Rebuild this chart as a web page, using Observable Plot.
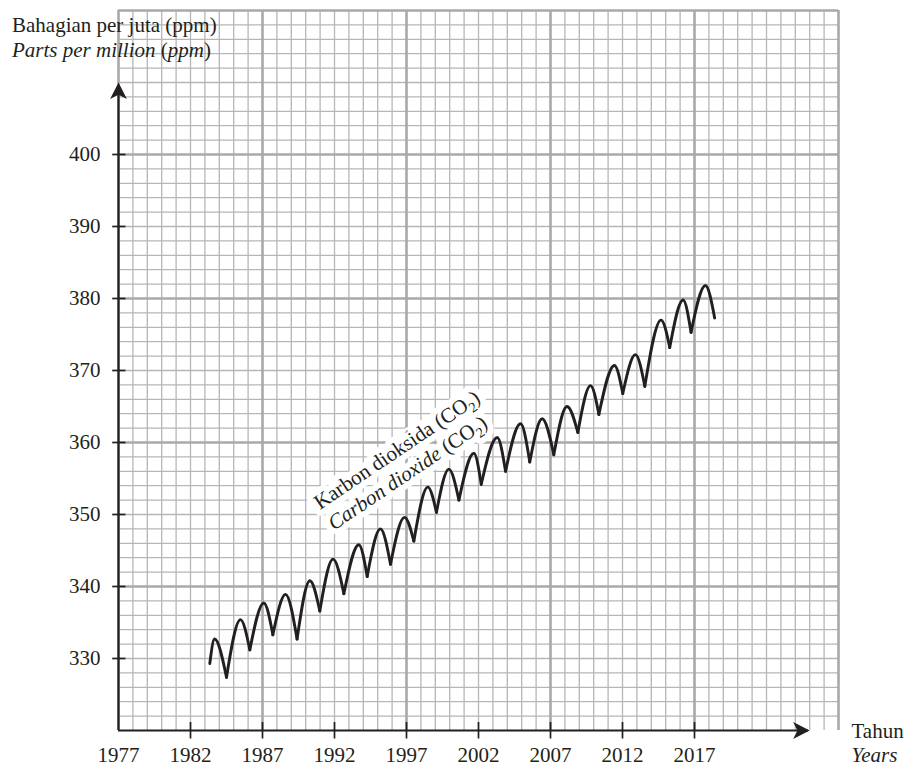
<!DOCTYPE html>
<html><head><meta charset="utf-8">
<script src="https://cdn.jsdelivr.net/npm/d3@7"></script>
<script src="https://cdn.jsdelivr.net/npm/@observablehq/plot@0.6"></script>
<style>body{margin:0;background:#fff}</style>
</head><body><div id="chart"></div>
<script>
// Seasonal CO2 curve: start, then alternating peak / trough, then end point
const curveYears = [
  1983.34, 1983.67, 1984.50, 1985.47, 1986.12, 1987.09, 1987.72, 1988.60, 1989.40,
  1990.29, 1990.98, 1991.90, 1992.65, 1993.69, 1994.27, 1995.19, 1995.89, 1996.86,
  1997.51, 1998.48, 1999.08, 1999.94, 2000.64, 2001.68, 2002.19, 2003.30, 2003.88,
  2004.92, 2005.56, 2006.42, 2007.23, 2008.15, 2008.90, 2009.78, 2010.36, 2011.44,
  2012.02, 2012.90, 2013.55, 2014.68, 2015.28, 2016.21, 2016.76, 2017.76, 2018.40
];
const curvePpm = [
  329.3, 332.7, 327.4, 335.4, 331.2, 337.7, 333.3, 338.9, 332.7,
  340.8, 336.6, 343.8, 339.0, 345.8, 341.4, 348.0, 343.1, 349.6,
  346.3, 353.8, 350.3, 356.3, 352.0, 358.5, 354.2, 360.7, 356.0,
  362.6, 357.3, 363.3, 358.3, 365.0, 361.4, 367.9, 363.9, 370.7,
  366.8, 372.2, 367.8, 377.0, 373.2, 379.8, 375.3, 381.8, 377.3
];
const xTickYears = [1982, 1987, 1992, 1997, 2002, 2007, 2012, 2017];
const xLabelYears = [1977, 1982, 1987, 1992, 1997, 2002, 2007, 2012, 2017];
const yTickValues = [330, 340, 350, 360, 370, 380, 390, 400];
const xDomain = [1977, 2027];
const yDomain = [320, 420];
const xAxisEnd = 2025;     // arrow tip of the year axis
const yAxisEnd = 410;      // arrow tip of the ppm axis

const ink = "#231f20";
const font = "Liberation Serif, Times New Roman, serif";
const fs = 21;

// grid lines
const majorX = d3.range(xDomain[0], xDomain[1] + 1, 10);
const minorX = d3.range(xDomain[0] + 1, xDomain[1], 1).filter(v => (v - xDomain[0]) % 10 !== 0);
const majorY = d3.range(340, yDomain[1] + 1, 20);
const minorY = d3.range(yDomain[0] + 2, yDomain[1], 2).filter(v => v % 20 !== 0);

// each seasonal arc: trough -> peak -> trough
const arcRows = [];
for (let k = 0; 2 * k + 2 < curveYears.length; k++) {
  for (let j = 0; j < 3; j++) {
    const i = 2 * k + j;
    arcRows.push({arc: k, year: curveYears[i], ppm: curvePpm[i]});
  }
}

const arrowHead = {draw(ctx) {
  ctx.moveTo(0, 0); ctx.lineTo(8.4, 16.5); ctx.lineTo(0, 12.3); ctx.lineTo(-8.4, 16.5); ctx.closePath();
}};
const hTick = {draw(ctx) { ctx.moveTo(-6.3, 0); ctx.lineTo(7, 0); }};
const vTick = {draw(ctx) { ctx.moveTo(0, -8.5); ctx.lineTo(0, 8); }};

const plot = Plot.plot({
  width: 907, height: 766,
  marginLeft: 118, marginRight: 69, marginTop: 10, marginBottom: 36,
  x: {domain: xDomain, axis: null},
  y: {domain: yDomain, axis: null},
  style: {fontFamily: font, fontSize: fs + "px", color: ink, background: "#fff", overflow: "visible"},
  marks: [
    Plot.ruleX(minorX, {y1: yDomain[0], y2: yDomain[1], stroke: "#b6b6ba", strokeWidth: 1.3}),
    Plot.ruleY(minorY, {x1: xDomain[0], x2: xDomain[1], stroke: "#b6b6ba", strokeWidth: 1.3}),
    Plot.ruleX(majorX, {y1: yDomain[0], y2: yDomain[1], stroke: "#a8a8ad", strokeWidth: 2.6}),
    Plot.ruleY(majorY, {x1: xDomain[0], x2: xDomain[1], stroke: "#a8a8ad", strokeWidth: 2.6}),
    // axes
    Plot.ruleX([xDomain[0]], {y1: yDomain[0], y2: yAxisEnd - 1, stroke: ink, strokeWidth: 2.2}),
    Plot.ruleY([yDomain[0]], {x1: xDomain[0], x2: xAxisEnd - 0.1, stroke: ink, strokeWidth: 2.2}),
    Plot.dot([yAxisEnd], {x: () => xDomain[0], y: d => d, symbol: arrowHead, fill: ink, stroke: "none"}),
    Plot.dot([xAxisEnd], {x: d => d, y: () => yDomain[0], symbol: arrowHead, rotate: 90, fill: ink, stroke: "none"}),
    Plot.dot(yTickValues, {x: () => xDomain[0], y: d => d, symbol: hTick, fill: "none", stroke: ink, strokeWidth: 1.7}),
    Plot.dot(xTickYears, {x: d => d, y: () => yDomain[0], symbol: vTick, fill: "none", stroke: ink, strokeWidth: 1.7}),
    Plot.text(yTickValues, {x: () => xDomain[0], y: d => d, text: d => String(d), textAnchor: "end", dx: -18, fontSize: fs, fill: ink}),
    Plot.text(xLabelYears, {x: d => d, y: () => yDomain[0], text: d => String(d), textAnchor: "middle", dy: 25, fontSize: fs, fill: ink}),
    Plot.text(["Tahun"], {x: () => xDomain[1], y: () => yDomain[0], text: d => d, textAnchor: "start", lineAnchor: "bottom", dx: 13, dy: 7, fontSize: fs, fill: ink}),
    Plot.text(["Years"], {x: () => xDomain[1], y: () => yDomain[0], text: d => d, textAnchor: "start", lineAnchor: "bottom", dx: 13, dy: 31, fontSize: fs, fontStyle: "italic", fill: ink}),
    // curve
    Plot.line(arcRows, {x: "year", y: "ppm", z: "arc", curve: "monotone-x", stroke: ink, strokeWidth: 2.9, strokeLinecap: "round", strokeLinejoin: "round"})
  ]
});

document.getElementById("chart").appendChild(plot);

const svg = d3.select(plot);

// axis title (top-left)
const tg = svg.append("g").attr("font-family", font).attr("font-size", fs).attr("fill", ink)
  .attr("text-anchor", "start");
tg.append("text").attr("x", 12).attr("y", 32).text("Bahagian per juta (ppm)");
const t2 = tg.append("text").attr("x", 12).attr("y", 57);
t2.append("tspan").attr("font-style", "italic").text("Parts per million");
t2.append("tspan").text(" (");
t2.append("tspan").attr("font-style", "italic").text("ppm");
t2.append("tspan").text(")");

// rotated series label
const sx = plot.scale("x"), sy = plot.scale("y");
const lx = sx.apply(1991.03), ly = sy.apply(350.56);
const lg = svg.append("g").attr("transform", `translate(${lx},${ly}) rotate(-34)`)
  .attr("font-family", font).attr("font-size", fs).attr("fill", ink)
  .attr("text-anchor", "start");
function label(sel) {
  const a = sel.append("text").attr("x", 0).attr("y", 0);
  a.append("tspan").text("Karbon dioksida (CO");
  a.append("tspan").attr("font-size", 14).attr("dy", 5).text("2");
  a.append("tspan").attr("dy", -5).text(")");
  const b = sel.append("text").attr("x", 0).attr("y", 25);
  b.append("tspan").attr("font-style", "italic").text("Carbon dioxide");
  b.append("tspan").text(" (CO");
  b.append("tspan").attr("font-size", 14).attr("dy", 5).text("2");
  b.append("tspan").attr("dy", -5).text(")");
}
const halo = lg.append("g").attr("stroke", "#fff").attr("stroke-width", 12).attr("stroke-linejoin", "round").attr("fill", "#fff");
label(halo);
label(lg.append("g"));
</script>
</body></html>
